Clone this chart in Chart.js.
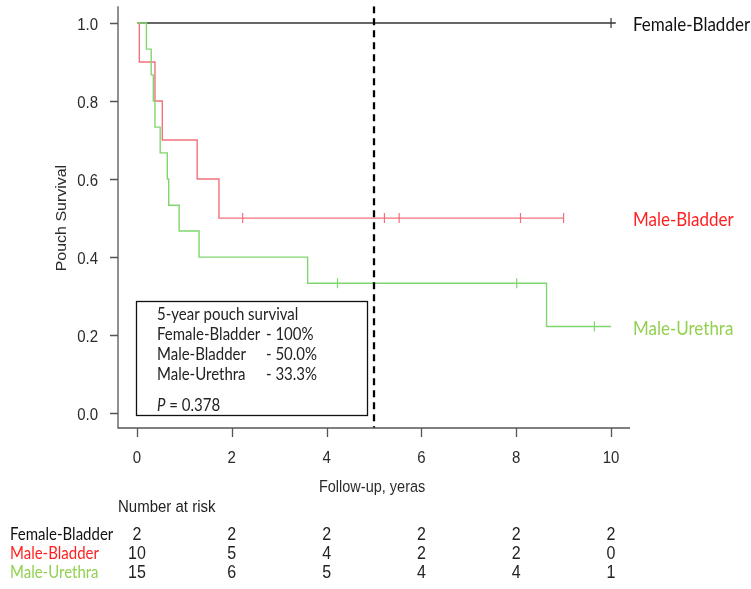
<!DOCTYPE html>
<html>
<head>
<meta charset="utf-8">
<script src="https://cdn.jsdelivr.net/npm/chart.js@4.4.1/dist/chart.umd.min.js"></script>
<style>
  body { margin: 0; background: #fff; }
  #wrap { width: 751px; height: 589px; position: relative; }
</style>
</head>
<body>
<div id="wrap"><canvas id="kmChart"></canvas></div>
<script>
// groups and their colours
const groups = ['Female-Bladder', 'Male-Bladder', 'Male-Urethra'];

// Kaplan-Meier steps (time in years, survival)
const femaleBladderTimes = [0, 10.1];
const femaleBladderSurv = [1, 1];
const maleBladderTimes = [0, 0.05, 0.38, 0.535, 1.27, 1.73, 9.0];
const maleBladderSurv = [1, 0.9, 0.8, 0.7, 0.6, 0.5, 0.5];
const maleUrethraTimes = [0, 0.2, 0.3, 0.345, 0.38, 0.49, 0.64, 0.67, 0.89, 1.31, 3.6, 8.64, 10.0];
const maleUrethraSurv = [1, 0.933, 0.867, 0.8, 0.733, 0.667, 0.6, 0.533, 0.467, 0.4, 0.333, 0.222, 0.222];

// censored observations (time in years)
const femaleBladderCensor = [10];
const maleBladderCensor = [2.23, 5.22, 5.53, 8.09, 9.0];
const maleUrethraCensor = [4.23, 8.01, 9.65];

// summary box
const fiveYearSurvival = ['100%', '50.0%', '33.3%'];
const pValue = '0.378';
const landmarkYear = 5;

// axes
const xTicks = [0, 2, 4, 6, 8, 10];
const yTicks = [0, 0.2, 0.4, 0.6, 0.8, 1.0];

// number at risk, at each x tick
const riskFemaleBladder = [2, 2, 2, 2, 2, 2];
const riskMaleBladder = [10, 5, 4, 2, 2, 0];
const riskMaleUrethra = [15, 6, 5, 4, 4, 1];

const lineColors = ['#333333', '#f0707c', '#80d66e'];
const labelColors = ['#111111', '#ff1f1f', '#92d050'];

function toPoints(times, surv) {
    return times.map((t, i) => ({ x: t, y: surv[i] }));
}

// survival level of a curve at time t, to place the censor ticks
function survAt(times, surv, t) {
    let s = surv[0];
    for (let i = 0; i < times.length; i++) {
        if (times[i] <= t) s = surv[i];
    }
    return s;
}

function censorPoints(times, surv, censor) {
    return censor.map(t => ({ x: t, y: survAt(times, surv, t) }));
}

function curve(data, color) {
    return {
        data: data,
        borderColor: color,
        borderWidth: 1.4,
        stepped: true,
        pointRadius: 0,
        fill: false
    };
}

function ticksSet(data, color) {
    return {
        data: data,
        showLine: false,
        borderColor: color,
        pointStyle: 'line',
        rotation: 90,
        pointRadius: 5,
        pointBorderWidth: 1.2
    };
}

const sansFont = '"Liberation Sans", Arial, sans-serif';
const calFont = 'Lato, "Open Sans", sans-serif';
const narrowFont = '"Liberation Sans Narrow", "Liberation Sans", Arial, sans-serif';

// the original picture is a little stretched vertically
function txt(ctx, str, x, y) {
    ctx.save();
    ctx.translate(x, y);
    ctx.scale(1, 1.1);
    ctx.fillText(str, 0, 0);
    ctx.restore();
}

// axis lines, ticks, labels, summary box and risk table
const kmDecor = {
    id: 'kmDecor',
    afterDraw(chart) {
        const { ctx, chartArea, scales } = chart;
        const x = scales.x, y = scales.y;
        ctx.save();

        ctx.strokeStyle = '#555';
        ctx.lineWidth = 1.3;
        ctx.beginPath();
        ctx.moveTo(chartArea.left, chartArea.top);
        ctx.lineTo(chartArea.left, chartArea.bottom);
        ctx.lineTo(chartArea.right, chartArea.bottom);
        yTicks.forEach(v => {
            const py = Math.round(y.getPixelForValue(v)) + 0.5;
            ctx.moveTo(chartArea.left - 8, py);
            ctx.lineTo(chartArea.left, py);
        });
        xTicks.forEach(v => {
            const px = Math.round(x.getPixelForValue(v)) + 0.5;
            ctx.moveTo(px, chartArea.bottom);
            ctx.lineTo(px, chartArea.bottom + 9);
        });
        ctx.stroke();

        ctx.fillStyle = '#2b2b2b';
        ctx.font = '15px ' + sansFont;
        ctx.textBaseline = 'middle';
        ctx.textAlign = 'right';
        yTicks.forEach(v => {
            txt(ctx, v.toFixed(1), chartArea.left - 20, y.getPixelForValue(v) + 2);
        });
        ctx.textAlign = 'center';
        xTicks.forEach(v => {
            txt(ctx, String(v), x.getPixelForValue(v), chartArea.bottom + 30);
        });

        ctx.font = '14.5px ' + sansFont;
        txt(ctx, 'Follow-up, yeras', x.getPixelForValue(4.96), chartArea.bottom + 60);
        ctx.save();
        ctx.translate(62, y.getPixelForValue(0.5));
        ctx.rotate(-Math.PI / 2);
        ctx.scale(1.1, 1);
        ctx.fillText('Pouch Survival', 0, 0);
        ctx.restore();

        // group names at the curve ends
        ctx.textAlign = 'left';
        ctx.font = '17px ' + calFont;
        const ends = [femaleBladderSurv, maleBladderSurv, maleUrethraSurv];
        groups.forEach((g, i) => {
            ctx.fillStyle = labelColors[i];
            const s = ends[i][ends[i].length - 1];
            txt(ctx, g, 633, y.getPixelForValue(s) + 2);
        });

        // summary box
        ctx.strokeStyle = '#111';
        ctx.lineWidth = 1.3;
        ctx.strokeRect(136.5, 301.5, 231, 114);
        ctx.fillStyle = '#222';
        ctx.font = '15px ' + calFont;
        txt(ctx, '5-year pouch survival', 157, 315);
        groups.forEach((g, i) => {
            txt(ctx, g, 157, 335 + i * 20);
            txt(ctx, '- ' + fiveYearSurvival[i], 266, 335 + i * 20);
        });
        ctx.font = 'italic 15px ' + calFont;
        txt(ctx, 'P', 157, 406);
        const pw = ctx.measureText('P').width;
        ctx.font = '15px ' + calFont;
        txt(ctx, ' = ' + pValue, 157 + pw, 406);

        // number at risk table
        ctx.font = '15px ' + sansFont;
        ctx.fillStyle = '#222';
        txt(ctx, 'Number at risk', 118, 507);
        const rows = [riskFemaleBladder, riskMaleBladder, riskMaleUrethra];
        rows.forEach((row, i) => {
            const py = 535 + i * 19;
            ctx.font = '15px ' + calFont;
            ctx.textAlign = 'left';
            ctx.fillStyle = labelColors[i];
            txt(ctx, groups[i], 10, py);
            ctx.font = '16px ' + narrowFont;
            ctx.textAlign = 'center';
            ctx.fillStyle = '#222';
            row.forEach((n, j) => {
                txt(ctx, String(n), x.getPixelForValue(xTicks[j]), py);
            });
        });
        ctx.restore();
    }
};

const ctx = document.getElementById('kmChart').getContext('2d');
const chart = new Chart(ctx, {
    type: 'line',
    data: {
        datasets: [
            {
                data: [{ x: landmarkYear, y: 1.043 }, { x: landmarkYear, y: -0.038 }],
                borderColor: '#000',
                borderWidth: 2.3,
                borderDash: [7, 5],
                pointRadius: 0
            },
            ticksSet(censorPoints(maleUrethraTimes, maleUrethraSurv, maleUrethraCensor), lineColors[2]),
            curve(toPoints(maleUrethraTimes, maleUrethraSurv), lineColors[2]),
            ticksSet(censorPoints(maleBladderTimes, maleBladderSurv, maleBladderCensor), lineColors[1]),
            curve(toPoints(maleBladderTimes, maleBladderSurv), lineColors[1]),
            ticksSet(censorPoints(femaleBladderTimes, femaleBladderSurv, femaleBladderCensor), lineColors[0]),
            curve(toPoints(femaleBladderTimes, femaleBladderSurv), lineColors[0])
        ]
    },
    options: {
        responsive: true,
        maintainAspectRatio: false,
        animation: false,
        layout: { padding: { left: 118, right: 121, top: 0, bottom: 161 } },
        plugins: { legend: { display: false }, tooltip: { enabled: false } },
        scales: {
            x: { type: 'linear', min: -0.40, max: 10.40, display: false },
            y: { type: 'linear', min: -0.038, max: 1.043, display: false }
        }
    },
    plugins: [kmDecor]
});
</script>
</body>
</html>
